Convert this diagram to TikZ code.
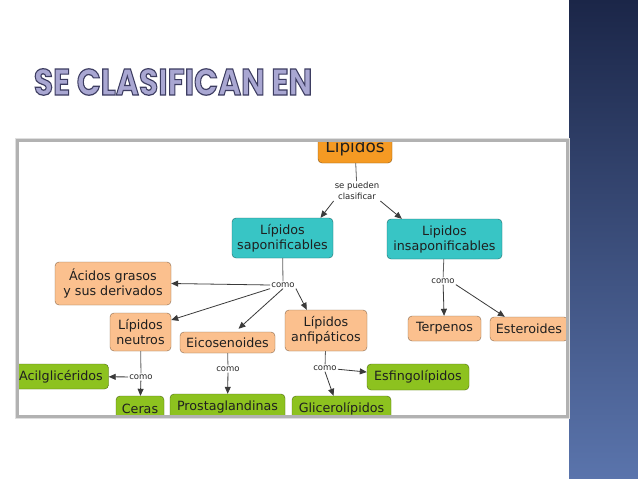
\documentclass[tikz,border=0pt]{standalone}
\usepackage{fontspec}
\setmainfont{DejaVu Sans}
\newfontfamily\titlefont{Poppins}
\usepackage{graphicx}
\usetikzlibrary{arrows.meta}
\usetikzlibrary{positioning}

\definecolor{topcol}{HTML}{F59A23}
\definecolor{tealcol}{HTML}{38C5C5}
\definecolor{peachcol}{HTML}{FBC08E}
\definecolor{greencol}{HTML}{8DC21F}
\definecolor{linecol}{HTML}{3A3A3A}
\definecolor{titlefill}{HTML}{A9A7D2}
\definecolor{bartop}{HTML}{1B2648}
\definecolor{barbot}{HTML}{5A74AC}

\newcommand\strokedtext[1]{\special{pdf:code 2 Tr 1.2 w 0.24 0.24 0.38 RG}#1\special{pdf:code 0 Tr}}

\begin{document}
\begin{tikzpicture}[x=1pt, y=-1pt,
    concept/.style={fill=#1, draw=#1!55!black, rounded corners=4pt, align=center,
      inner sep=0pt, font=\fontsize{12.7}{15}\selectfont, text=black!88},
    link/.style={font=\fontsize{8.5}{11}\selectfont, align=center, inner sep=1pt, text=black!85},
    arr/.style={draw=linecol, line width=0.8pt, -{Triangle[length=7pt,width=6pt]}},
    ln/.style={draw=linecol!80, line width=0.8pt}]
    \useasboundingbox (0,0) rectangle (638,479);
    \fill[white] (0,0) rectangle (638,479);
    \shade[top color=bartop, bottom color=barbot] (569,0) rectangle (638,479);
    \node[font=\titlefont\bfseries\fontsize{37}{40}\selectfont, text=titlefill, inner sep=0pt] (title) at (173,82)
        {\scalebox{0.85}[1]{\strokedtext{SE CLASIFICAN EN}}};
    \fill[gray!25] (15,138) rectangle (570,419);
    \fill[white] (18,141) rectangle (567,416);
    \begin{scope}
    \clip (18,141) rectangle (567,416);
    \node[concept=topcol, minimum width=74pt, minimum height=30pt, font=\fontsize{16.8}{18}\selectfont] (lip) at (355,148) {Lípidos};
    \node[link] (sp) at (357,191) {se pueden\\clasificar};
    \node[concept=tealcol, minimum width=101pt, minimum height=40pt] (sapon) at (282.5,238) {Lípidos\\saponificables};
    \node[concept=tealcol, minimum width=115pt, minimum height=40pt] (insapon) at (444.5,239) {Lipidos\\insaponificables};
    \node[link] (como1) at (283,285) {como};
    \node[link] (como2) at (443,281) {como};
    \node[concept=peachcol, minimum width=116pt, minimum height=43pt] (acidos) at (113,283.5) {Ácidos grasos\\y sus derivados};
    \node[concept=peachcol, minimum width=61pt, minimum height=38pt] (neutros) at (140.5,332) {Lípidos\\neutros};
    \node[concept=peachcol, minimum width=95pt, minimum height=21pt] (eicos) at (227.5,342.5) {Eicosenoides};
    \node[concept=peachcol, minimum width=82pt, minimum height=41pt] (anfip) at (326,330.5) {Lípidos\\anfipáticos};
    \node[concept=peachcol, minimum width=73pt, minimum height=25pt] (terp) at (444.5,328.5) {Terpenos};
    \node[concept=peachcol, minimum width=78pt, minimum height=24pt] (ester) at (529,329) {Esteroides};
    \node[link] (como3) at (141,377) {como};
    \node[link] (como4) at (228,369) {como};
    \node[link] (como5) at (325,368) {como};
    \node[concept=greencol, minimum width=95pt, minimum height=25pt] (acil) at (61,376.5) {Acilglicéridos};
    \node[concept=greencol, minimum width=48pt, minimum height=26pt] (ceras) at (140,409) {Ceras};
    \node[concept=greencol, minimum width=115pt, minimum height=26pt] (prosta) at (227.5,407) {Prostaglandinas};
    \node[concept=greencol, minimum width=99pt, minimum height=26pt] (glicero) at (341.5,409) {Glicerolípidos};
    \node[concept=greencol, minimum width=102pt, minimum height=26pt] (esfingo) at (418,377) {Esfingolípidos};
    \draw[ln] (lip) -- (sp);
    \draw[arr] (sp.south west) -- ([xshift=38pt]sapon.north);
    \draw[arr] (sp.south east) -- ([xshift=15pt]insapon.north west);
    \draw[ln] (sapon) -- (como1);
    \draw[arr] (como1.west) -- (acidos.east);
    \draw[arr] (como1.south west) -- ([yshift=12pt]neutros.east);
    \draw[arr] (como1.south) -- ([xshift=11pt,yshift=3pt]eicos.north);
    \draw[arr] (como1.south east) -- ([xshift=22pt]anfip.north west);
    \draw[ln] (insapon) -- (como2);
    \draw[arr] (como2) -- (terp);
    \draw[arr] (como2.south east) -- ([xshift=15pt]ester.north west);
    \draw[ln] (neutros) -- (como3);
    \draw[arr] (como3) -- (acil);
    \draw[arr] (como3) -- (ceras);
    \draw[ln] (eicos) -- (como4);
    \draw[arr] (como4) -- (prosta);
    \draw[ln] (anfip) -- (como5);
    \draw[arr] (como5) -- (esfingo);
    \draw[arr] (como5.south) -- ([xshift=-8pt]glicero.north);
    \end{scope}
    \draw[gray!60, line width=2.5pt] (17.5,140.5) rectangle (567.5,416.5);
\end{tikzpicture}
\end{document}
